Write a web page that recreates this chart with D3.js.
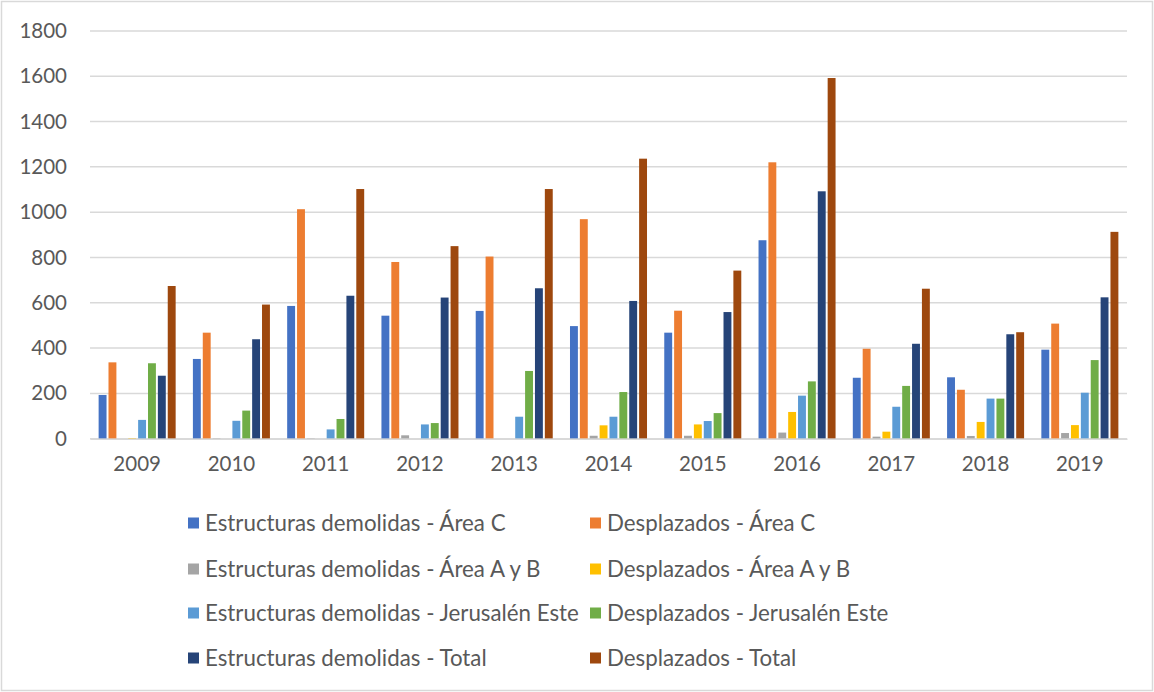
<!DOCTYPE html>
<html>
<head>
<meta charset="utf-8">
<script src="https://cdn.jsdelivr.net/npm/d3@7"></script>
<style>
  html, body { margin: 0; padding: 0; background: #fff; }
  svg { display: block; }
  text { font-family: Lato, "Open Sans", sans-serif; fill: #595959; }
</style>
</head>
<body>
<svg id="chart" width="1154" height="692"></svg>
<script>
const years = ["2009","2010","2011","2012","2013","2014","2015","2016","2017","2018","2019"];
const seriesNames = [
  "Estructuras demolidas - Área C",
  "Desplazados - Área C",
  "Estructuras demolidas - Área A y B",
  "Desplazados - Área A y B",
  "Estructuras demolidas - Jerusalén Este",
  "Desplazados - Jerusalén Este",
  "Estructuras demolidas - Total",
  "Desplazados - Total"
];
const demAreaC   = [193, 352, 586, 543, 564, 497, 468, 876, 269, 271, 393];
const despAreaC  = [337, 468, 1013, 780, 804, 969, 565, 1220, 397, 216, 508];
const demAreaAB  = [0, 2, 2, 15, 0, 13, 13, 27, 9, 12, 25];
const despAreaAB = [3, 0, 0, 0, 0, 59, 63, 118, 31, 74, 60];
const demJerus   = [83, 79, 41, 63, 97, 97, 78, 190, 141, 177, 203];
const despJerus  = [333, 124, 87, 69, 299, 206, 113, 253, 233, 177, 347];
const demTotal   = [278, 439, 631, 623, 664, 608, 559, 1092, 419, 461, 624];
const despTotal  = [674, 592, 1102, 850, 1102, 1236, 742, 1592, 662, 470, 913];
const yTicks = [0, 200, 400, 600, 800, 1000, 1200, 1400, 1600, 1800];
const colors = ["#4472C4","#ED7D31","#A5A5A5","#FFC000","#5B9BD5","#70AD47","#264478","#9E480E"];

const seriesValues = [demAreaC, despAreaC, demAreaAB, despAreaAB, demJerus, despJerus, demTotal, despTotal];

(function () {
const svg = d3.select("#chart");
svg.append("rect").attr("x", 1.5).attr("y", 1.5).attr("width", 1151).attr("height", 689)
  .attr("fill", "#fff").attr("stroke", "#d9d9d9").attr("stroke-width", 1.5);

const pLeft = 90, pRight = 1127, pTop = 30.9, pBottom = 438.7;
const x0 = d3.scaleBand().domain(years).range([pLeft, pRight]).paddingInner(0.183).paddingOuter(0.0915);
const x1 = d3.scaleBand().domain(d3.range(seriesNames.length)).range([0, x0.bandwidth()]).paddingInner(0.2).paddingOuter(0);
const y = d3.scaleLinear().domain([0, 1800]).range([pBottom, pTop]);

// gridlines
svg.append("g").selectAll("line").data(yTicks).join("line")
  .attr("x1", pLeft).attr("x2", pRight)
  .attr("y1", d => y(d)).attr("y2", d => y(d))
  .attr("stroke", "#d9d9d9").attr("stroke-width", 1.5);

// y axis labels
const yAxis = svg.append("g").attr("transform", `translate(${pLeft},0)`)
  .call(d3.axisLeft(y).tickValues(yTicks).tickFormat(d3.format("d")).tickSize(0).tickPadding(23));
yAxis.select(".domain").remove();
yAxis.selectAll("text").style("font-size", "20.5px").attr("fill", "#595959");

// bars
const groups = svg.append("g").selectAll("g").data(years).join("g")
  .attr("transform", d => `translate(${x0(d)},0)`);
groups.selectAll("rect").data((d, i) => seriesValues.map((s, k) => ({k, v: s[i]})))
  .join("rect")
  .attr("x", d => x1(d.k))
  .attr("width", x1.bandwidth())
  .attr("y", d => y(d.v))
  .attr("height", d => y(0) - y(d.v))
  .attr("fill", d => colors[d.k]);

// x axis
const xAxis = svg.append("g").attr("transform", `translate(0,${pBottom})`)
  .call(d3.axisBottom(x0).tickSize(0).tickPadding(18));
xAxis.select(".domain").attr("stroke", "#d9d9d9").attr("stroke-width", 1.5);
xAxis.selectAll("text").style("font-size", "20.5px").attr("fill", "#595959");

// legend
const legX = [188, 590];
const legY = [523, 569, 613, 658];
const leg = svg.append("g").selectAll("g").data(seriesNames).join("g")
  .attr("transform", (d, i) => `translate(${legX[i % 2]},${legY[Math.floor(i / 2)]})`);
leg.append("rect").attr("x", 0).attr("y", -5.5).attr("width", 11).attr("height", 11)
  .attr("fill", (d, i) => colors[i]);
leg.append("text").attr("x", 17).attr("y", 0).attr("dy", "0.35em")
  .style("font-size", "22.3px").text(d => d);
})();
</script>
</body>
</html>
